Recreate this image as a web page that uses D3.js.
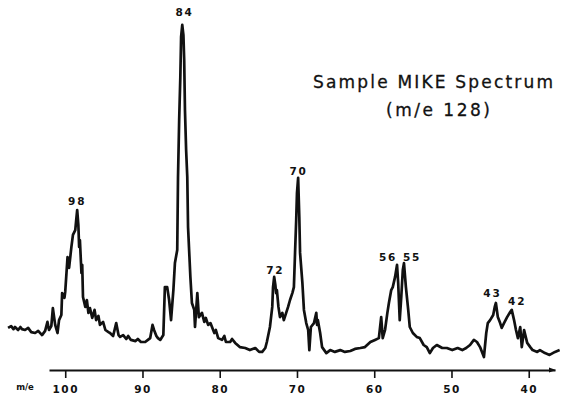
<!DOCTYPE html>
<html><head><meta charset="utf-8">
<script src="https://cdn.jsdelivr.net/npm/d3@7"></script>
<style>html,body{margin:0;padding:0;background:#fff;}svg{display:block;}</style>
</head><body>
<svg id="c" width="567" height="396"></svg>
<script>
// m/e positions (axis units) of the recorded trace
const mz = [107.4,107.0,106.7,106.5,106.1,105.8,105.6,105.2,104.8,104.4,103.9,103.5,103.0,102.6,102.3,102.1,101.8,101.6,101.3,101.0,100.8,100.5,100.4,100.1,100.0,99.7,99.5,99.2,99.0,98.7,98.6,98.45,98.3,98.2,98.1,97.9,97.8,97.7,97.4,97.2,97.0,96.8,96.5,96.2,96.0,95.7,95.5,95.1,94.8,94.4,94.2,93.8,93.4,93.1,92.9,92.5,92.1,91.85,91.5,90.9,90.6,90.2,89.65,89.3,89.0,88.7,88.5,88.2,88.0,87.7,87.3,87.1,86.8,86.55,86.3,86.0,85.8,85.5,85.4,85.25,85.1,85.0,84.85,84.7,84.6,84.5,84.35,84.2,84.1,83.8,83.6,83.3,83.2,82.9,82.7,82.3,82.0,81.8,81.5,81.2,80.7,80.5,80.2,79.7,79.4,79.2,78.65,78.4,78.0,77.4,76.7,76.1,75.4,74.9,74.5,74.1,73.9,73.5,73.2,73.1,72.95,72.8,72.7,72.6,72.4,72.2,71.9,71.7,71.4,71.15,70.9,70.6,70.4,70.25,70.1,70.0,69.85,69.7,69.6,69.3,69.1,68.8,68.55,68.4,68.2,67.8,67.5,67.4,67.3,67.0,66.75,66.2,65.7,65.1,64.4,63.8,63.1,62.5,61.8,61.2,60.5,59.9,59.4,59.1,58.9,58.6,58.3,58.1,57.8,57.6,57.3,57.05,56.9,56.7,56.5,56.3,56.15,55.9,55.6,55.4,55.0,54.5,54.1,53.6,53.2,52.8,52.4,51.9,51.2,50.6,49.9,49.2,48.6,48.1,47.6,47.1,46.7,46.3,45.8,45.5,45.3,45.0,44.6,44.4,44.25,44.0,43.7,43.5,43.2,42.8,42.4,42.2,41.9,41.65,41.4,41.1,40.9,40.6,40.2,39.8,39.5,38.9,38.55,37.9,37.3,36.6,36.0];
// relative intensity of the trace at each position
const intensity = [10.7,11.3,10.3,11.0,10.0,11.0,10.3,10.0,10.7,9.3,9.0,9.7,8.3,9.7,12.7,10.0,11.3,17.3,11.7,9.0,13.3,15.0,22.3,20.7,22.7,34.3,30.7,37.7,41.7,43.3,46.0,50.0,45.0,37.7,40.0,29.0,31.7,21.0,17.7,20.0,15.7,17.3,14.0,16.7,13.3,14.7,11.7,12.7,10.0,9.3,9.0,8.0,12.3,8.3,7.7,8.3,7.0,8.0,6.7,6.3,7.0,6.0,6.0,6.7,7.3,11.7,10.0,8.0,7.3,6.7,8.3,24.3,24.3,20.0,13.3,23.3,32.3,36.7,61.0,80.0,94.3,107.7,111.7,108.3,100.0,83.3,70.0,61.0,44.3,27.7,19.0,16.7,11.0,22.3,14.3,15.7,12.7,14.0,11.7,12.3,9.0,10.0,7.3,6.7,8.0,6.0,6.0,7.0,5.7,4.3,4.0,3.3,4.0,2.7,2.7,4.0,6.0,11.0,17.7,24.3,27.7,25.0,22.3,23.3,17.7,14.3,15.7,13.3,15.7,17.7,20.0,22.3,24.3,35.7,46.7,55.7,60.7,47.7,35.7,25.7,16.7,12.3,10.0,3.3,11.0,12.3,15.7,11.7,13.3,9.0,4.3,2.3,3.3,2.7,3.3,2.7,3.0,3.7,4.0,4.3,6.0,6.7,7.3,14.3,7.3,10.0,15.7,19.0,23.3,24.3,27.7,31.7,25.7,13.3,21.0,30.0,32.3,24.3,16.7,11.0,9.0,7.7,7.3,5.0,4.3,2.3,4.0,5.0,4.0,4.0,3.3,4.0,3.3,4.0,5.0,6.7,6.0,4.3,1.0,9.0,12.3,13.3,15.0,17.7,19.0,14.3,12.3,10.7,12.3,14.3,16.0,16.7,13.3,10.0,7.3,11.0,4.3,10.0,5.7,4.3,3.3,2.7,3.3,2.3,1.7,2.7,3.3];
// peak annotations
const peakLabels = ["98","84","72","70","56","55","43","42"];
const peakLabelMz = [98.45,84.55,72.8,69.8,58.2,55.1,44.7,41.5];
const peakLabelInt = [53.0,116.0,30.0,63.0,34.3,34.3,22.3,19.7];
// axis
const tickValues = [100,90,80,70,60,50,40];
const axisExtent = [102.1,36.6];
const axisName = "m/e";
const titleLines = ["Sample MIKE Spectrum","(m/e 128)"];

const svg = d3.select("#c");
const x = d3.scaleLinear().domain(axisExtent).range([49,555]);
const y = d3.scaleLinear().domain([0,120]).range([360,0]);
const ink = "#111";

const pts = mz.map((m,i)=>[m,intensity[i]]);
svg.append("path")
  .attr("d", d3.line().x(d=>x(d[0])).y(d=>y(d[1]))(pts))
  .attr("fill","none").attr("stroke",ink).attr("stroke-width",2.7)
  .attr("stroke-linejoin","round");

// peak labels
svg.selectAll("text.pk").data(peakLabels).join("text")
  .attr("class","pk")
  .attr("x",(d,i)=>x(peakLabelMz[i]))
  .attr("y",(d,i)=>y(peakLabelInt[i]))
  .attr("text-anchor","middle").attr("dominant-baseline","central")
  .attr("font-family","DejaVu Sans").attr("font-weight","bold")
  .attr("font-size",10.5).attr("letter-spacing",1.8).attr("fill",ink)
  .text(d=>d);

// axis
const axis = d3.axisBottom(x).tickValues(tickValues).tickSize(8).tickSizeOuter(0).tickPadding(8)
  .tickFormat(d3.format("d"));
const g = svg.append("g").attr("transform","translate(0,370)").call(axis);
g.select(".domain").attr("stroke",ink).attr("stroke-width",1.8);
g.selectAll(".tick line").attr("stroke",ink).attr("stroke-width",1.6);
g.selectAll(".tick text").attr("font-family","DejaVu Sans").attr("font-weight","bold")
  .attr("font-size",10.5).attr("letter-spacing",1.5).attr("fill",ink);
// arrow tip at axis end
svg.append("path")
  .attr("d",`M${x(axisExtent[1])-6},367.5L${x(axisExtent[1])+1},370L${x(axisExtent[1])-6},372.5Z`)
  .attr("fill",ink);
svg.append("text").attr("x",25).attr("y",390).attr("text-anchor","middle")
  .attr("font-family","DejaVu Sans").attr("font-weight","bold").attr("font-size",8.5)
  .attr("fill",ink).text(axisName);

// title
svg.append("text").attr("x",313).attr("y",88)
  .attr("font-family","DejaVu Sans").attr("font-size",17).attr("fill",ink)
  .attr("stroke",ink).attr("stroke-width",0.3)
  .attr("textLength",240).attr("lengthAdjust","spacing").text(titleLines[0]);
svg.append("text").attr("x",386).attr("y",116)
  .attr("font-family","DejaVu Sans").attr("font-size",17).attr("fill",ink)
  .attr("stroke",ink).attr("stroke-width",0.3)
  .attr("textLength",104).attr("lengthAdjust","spacing").text(titleLines[1]);
</script>
</body></html>
